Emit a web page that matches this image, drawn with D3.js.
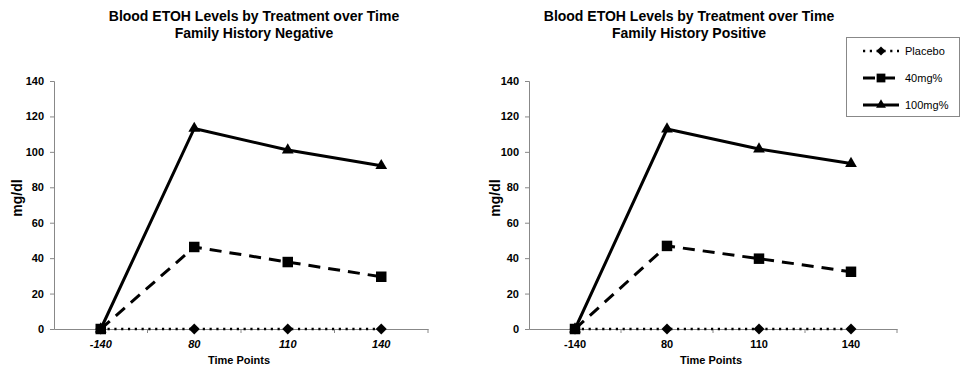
<!DOCTYPE html>
<html>
<head>
<meta charset="utf-8">
<script src="https://cdn.jsdelivr.net/npm/d3@7"></script>
<style>
  body { margin: 0; background: #fff; }
  text { font-family: "Liberation Sans", Arial, sans-serif; }
</style>
</head>
<body>
<script>
// categories and tick labels
let timePoints = ["-140", "80", "110", "140"];
let yTicks = [0, 20, 40, 60, 80, 100, 120, 140];
let seriesNames = ["Placebo", "40mg%", "100mg%"];

// family history negative
let negPlacebo = [0, 0, 0, 0];
let neg40 = [0, 46.3, 37.8, 29.5];
let neg100 = [0, 113.2, 101, 92.2];

// family history positive
let posPlacebo = [0, 0, 0, 0];
let pos40 = [0, 46.9, 39.7, 32.3];
let pos100 = [0, 112.9, 101.6, 93.4];

let svg = d3.select("body").append("svg")
    .attr("width", 961)
    .attr("height", 373);

let axisColor = "#888";

// diamond marker, equal width and height
let diamond = {
  draw: function(ctx, size) {
    let r = Math.sqrt(size / 2);
    ctx.moveTo(0, -r); ctx.lineTo(r, 0); ctx.lineTo(0, r); ctx.lineTo(-r, 0); ctx.closePath();
  }
};

let styles = [
  {dash: "2.2,4.6", width: 2.6, cap: "butt", symbol: diamond, size: 60},
  {dash: "12,8", width: 3, cap: "butt", symbol: d3.symbolSquare, size: 110},
  {dash: null, width: 3, cap: "butt", symbol: d3.symbolTriangle, size: 60}
];

function drawPanel(opts) {
  let g = svg.append("g");

  let x = d3.scaleBand().domain(timePoints).range([opts.x0, opts.x1]).padding(0);
  let y = d3.scaleLinear().domain([0, 140]).range([329, 81]);
  let cx = function(d) { return x(d) + x.bandwidth() / 2; };

  // title
  g.append("text").attr("x", opts.titleX).attr("y", 21)
    .attr("text-anchor", "middle").attr("font-weight", "bold").attr("font-size", 14)
    .text("Blood ETOH Levels by Treatment over Time");
  g.append("text").attr("x", opts.titleX).attr("y", 38)
    .attr("text-anchor", "middle").attr("font-weight", "bold").attr("font-size", 14)
    .text(opts.subtitle);

  // y axis
  let yAxis = g.append("g")
    .attr("transform", "translate(" + opts.x0 + ",0)")
    .call(d3.axisLeft(y).tickValues(yTicks).tickSize(4).tickPadding(6));
  yAxis.selectAll("path, line").attr("stroke", axisColor);
  yAxis.selectAll("text").attr("font-size", 11).attr("font-weight", "bold")
    .attr("font-family", "Liberation Sans, Arial, sans-serif").attr("fill", "#000");

  // x axis: labels at category centres, ticks at boundaries
  let xAxis = g.append("g")
    .attr("transform", "translate(0," + y(0) + ")")
    .call(d3.axisBottom(x).tickSize(0).tickPadding(11));
  xAxis.select(".domain").attr("stroke", axisColor);
  xAxis.selectAll("text").attr("font-size", 11).attr("font-weight", "bold")
    .attr("font-style", opts.italic ? "italic" : "normal")
    .attr("font-family", "Liberation Sans, Arial, sans-serif").attr("fill", "#000");
  xAxis.selectAll(".bound").data(timePoints).enter().append("line")
    .attr("x1", function(d) { return x(d) + x.bandwidth(); })
    .attr("x2", function(d) { return x(d) + x.bandwidth(); })
    .attr("y1", 0).attr("y2", 4).attr("stroke", axisColor);

  // axis titles
  g.append("text")
    .attr("transform", "translate(" + opts.yLabelX + ",198) rotate(-90)")
    .attr("text-anchor", "middle").attr("font-weight", "bold").attr("font-size", 14)
    .text("mg/dl");
  g.append("text").attr("x", opts.xLabelX).attr("y", 364)
    .attr("text-anchor", "middle").attr("font-weight", "bold").attr("font-size", 11)
    .text("Time Points");

  let line = d3.line()
    .x(function(d, i) { return cx(timePoints[i]); })
    .y(function(d) { return y(d); });

  let order = [0, 2, 1];
  order.forEach(function(k) {
    let s = styles[k];
    g.append("path")
      .datum(opts.series[k])
      .attr("d", line)
      .attr("fill", "none").attr("stroke", "#000")
      .attr("stroke-width", s.width)
      .attr("stroke-linecap", s.cap)
      .attr("stroke-dasharray", s.dash);
  });
  order.forEach(function(k) {
    let s = styles[k];
    g.selectAll(".m" + k).data(opts.series[k]).enter().append("path")
      .attr("transform", function(d, i) { return "translate(" + cx(timePoints[i]) + "," + y(d) + ")"; })
      .attr("d", d3.symbol().type(s.symbol).size(s.size))
      .attr("fill", "#000");
  });
}

drawPanel({
  x0: 54, x1: 428, titleX: 254, yLabelX: 22, xLabelX: 239, italic: true,
  subtitle: "Family History Negative",
  series: [negPlacebo, neg40, neg100]
});

drawPanel({
  x0: 529, x1: 897, titleX: 689, yLabelX: 500, xLabelX: 711, italic: false,
  subtitle: "Family History Positive",
  series: [posPlacebo, pos40, pos100]
});

// legend
let legend = svg.append("g");
legend.append("rect")
  .attr("x", 846.5).attr("y", 37.5).attr("width", 113).attr("height", 79)
  .attr("fill", "#fff").attr("stroke", axisColor);

let legendRows = d3.scaleLinear().domain([0, 2]).range([51, 105]);
seriesNames.forEach(function(name, k) {
  let s = styles[k];
  let ly = legendRows(k);
  legend.append("line")
    .attr("x1", 863).attr("x2", 899).attr("y1", ly).attr("y2", ly)
    .attr("stroke", "#000").attr("stroke-width", s.width)
    .attr("stroke-dasharray", s.dash);
  legend.append("path")
    .attr("transform", "translate(881," + ly + ")")
    .attr("d", d3.symbol().type(s.symbol).size(s.size * 0.7))
    .attr("fill", "#000");
  legend.append("text")
    .attr("x", 905).attr("y", ly + 4)
    .attr("font-size", 11)
    .text(name);
});
</script>
</body>
</html>
